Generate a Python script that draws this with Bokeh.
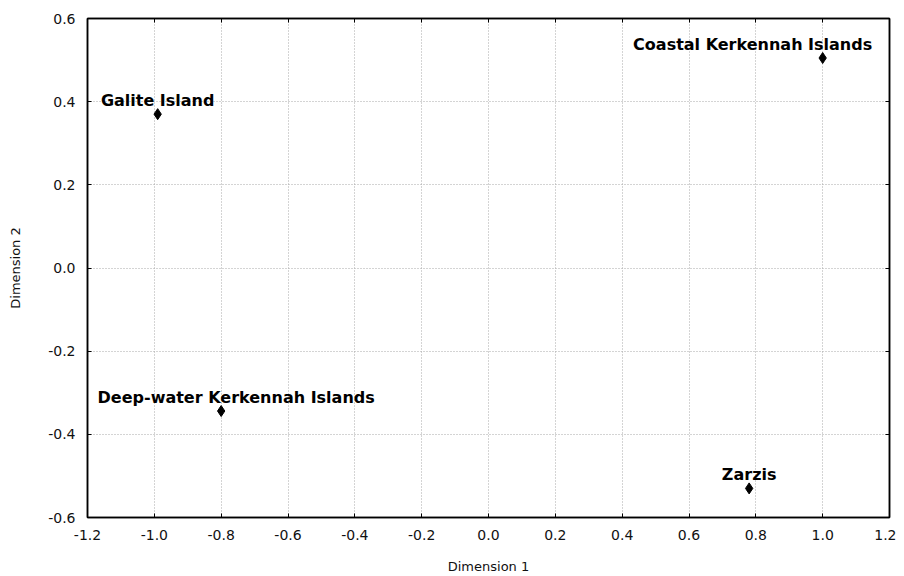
from bokeh.plotting import figure
from bokeh.models import ColumnDataSource, LinearAxis, FixedTicker, Range1d, CustomJSTickFormatter
from bokeh.core.properties import value
from bokeh.embed import file_html
from bokeh.resources import INLINE

# data
sites = ["Galite Island", "Coastal Kerkennah Islands", "Deep-water Kerkennah Islands", "Zarzis"]
dim1 = [-0.99, 1.0, -0.80, 0.78]
dim2 = [0.37, 0.505, -0.344, -0.53]
x_ticks = [-1.2, -1.0, -0.8, -0.6, -0.4, -0.2, 0.0, 0.2, 0.4, 0.6, 0.8, 1.0, 1.2]
y_ticks = [-0.6, -0.4, -0.2, 0.0, 0.2, 0.4, 0.6]

# label layout (pixel offsets of each label centre from its point)
label_dx = [0, -70, 15, 0]

src = ColumnDataSource(dict(x=dim1, y=dim2, name=sites, dx=label_dx))

TICK_FONT = "DejaVu Sans"

p = figure(width=896, height=576, output_backend="svg", toolbar_location=None,
           x_range=Range1d(-1.2, 1.2), y_range=Range1d(-0.6, 0.6),
           min_border_left=87, min_border_right=7, min_border_top=18, min_border_bottom=57,
           x_axis_label="Dimension 1", y_axis_label="Dimension 2")
p.background_fill_color = "white"
p.border_fill_color = "white"
p.outline_line_color = "black"
p.outline_line_width = 1.5

fmt = CustomJSTickFormatter(code="return tick.toFixed(1);")
for ax, ticks in ((p.xaxis[0], x_ticks), (p.yaxis[0], y_ticks)):
    ax.ticker = FixedTicker(ticks=ticks)
    ax.formatter = fmt
    ax.major_tick_in = 4
    ax.major_tick_out = 0
    ax.minor_tick_line_color = None
    ax.axis_line_color = "black"
    ax.axis_line_width = 1.5
    ax.major_tick_line_color = "black"
    ax.major_label_text_font = TICK_FONT
    ax.major_label_text_font_size = "14px"
    ax.major_label_text_color = "#111111"
    ax.axis_label_text_font = TICK_FONT
    ax.axis_label_text_font_size = "13px"
    ax.axis_label_text_font_style = "normal"
    ax.axis_label_text_color = "#111111"

p.xaxis[0].major_label_standoff = 12
p.yaxis[0].major_label_standoff = 12
p.xaxis[0].axis_label_standoff = 16
p.yaxis[0].axis_label_standoff = 22

blank = CustomJSTickFormatter(code="return '';")
top = LinearAxis(ticker=FixedTicker(ticks=x_ticks), formatter=blank, major_tick_in=4,
                 major_tick_out=0, minor_tick_line_color=None, major_label_standoff=0,
                 axis_line_width=1.5)
right = LinearAxis(ticker=FixedTicker(ticks=y_ticks), formatter=blank, major_tick_in=4,
                   major_tick_out=0, minor_tick_line_color=None, major_label_standoff=0,
                   axis_line_width=1.5)
p.add_layout(top, "above")
p.add_layout(right, "right")

p.xgrid[0].ticker = FixedTicker(ticks=x_ticks)
p.ygrid[0].ticker = FixedTicker(ticks=y_ticks)
for g in (p.xgrid[0], p.ygrid[0]):
    g.grid_line_color = "#a8a8a8"
    g.grid_line_dash = "1 2"
    g.grid_line_width = 1

p.scatter("x", "y", source=src, marker="diamond", size=11, color="black")
p.text("x", "y", text="name", source=src, x_offset="dx", y_offset=-14,
       text_align="center", text_baseline="alphabetic",
       text_font=value("DejaVu Sans"), text_font_style="bold",
       text_font_size="16px", text_color="black")

open("out.html", "w").write(file_html(p, INLINE))
